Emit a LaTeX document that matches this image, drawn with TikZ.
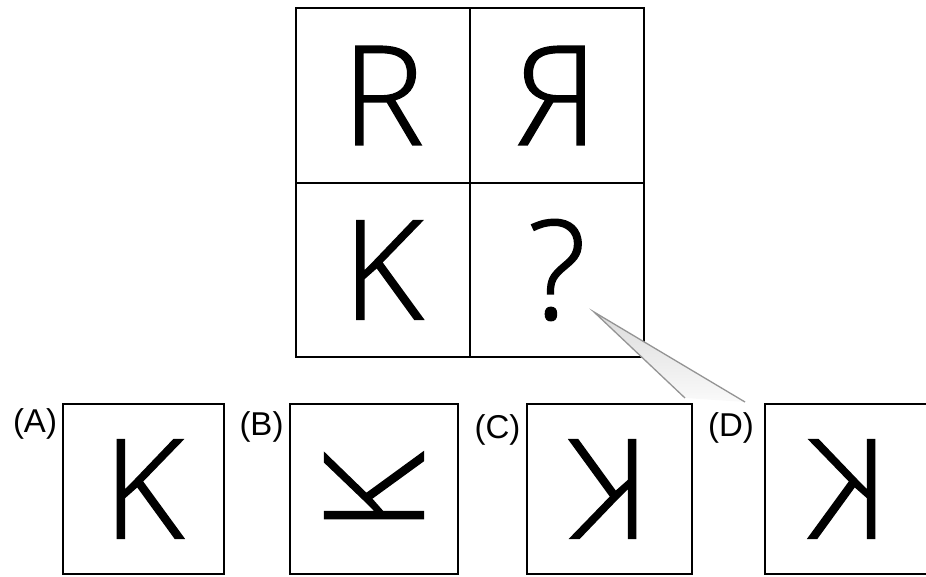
\documentclass[tikz,border=0pt]{standalone}
\usepackage{fontspec}
\usepackage{graphicx}
\newfontfamily\gridfont[FakeBold=1.2]{Open Sans Light}
\newfontfamily\optfont{Liberation Sans}
\begin{document}
\begin{tikzpicture}[x=1pt,y=-1pt,
  bigletter/.style={inner sep=0pt, font=\gridfont\fontsize{138}{138}\selectfont},
  cell/.style={bigletter, draw=black, line width=1.6pt,
    minimum width=174pt, minimum height=174.5pt},
  optbox/.style={bigletter, draw=black, line width=1.6pt,
    minimum height=170pt},
  lab/.style={inner sep=0pt, font=\optfont\fontsize{33}{33}\selectfont}]
\useasboundingbox (0,0) rectangle (926,576);
% top grid
\node[cell] (c11) at (383,95.5) {R};
\node[cell] (c12) at (557,95.5) {\reflectbox{R}};
\node[cell] (c21) at (383,270) {K};
\node[cell] (c22) at (557,270) {?};
% options
\node[optbox, minimum width=161pt] (oa) at (143.5,489) {K};
\node[optbox, minimum width=168pt] (ob) at (374,489) {};
\node[bigletter] (kb) at ([yshift=-8pt]ob.center) {\rotatebox[origin=c]{90}{K}};
\node[optbox, minimum width=165pt] (oc) at (609.5,489) {\rotatebox[origin=c]{180}{K}};
\node[optbox, minimum width=167pt] (od) at (848.5,489) {\reflectbox{K}};
% labels
\node[lab] (la) at (35,424) {(A)};
\node[lab] (lb) at (261.5,427) {(B)};
\node[lab] (lc) at (497.5,430) {(C)};
\node[lab] (ld) at (731,428) {(D)};
% callout wedge
\coordinate (tip) at (594,312);
\coordinate (b1) at (685,398);
\coordinate (b2) at (745,402);
\shade[top color=black!14, bottom color=black!2] (tip) -- (b1) -- (b2) -- cycle;
\draw[black!42, line width=1.3pt] (b1) -- (tip) -- (b2);
\end{tikzpicture}
\end{document}
